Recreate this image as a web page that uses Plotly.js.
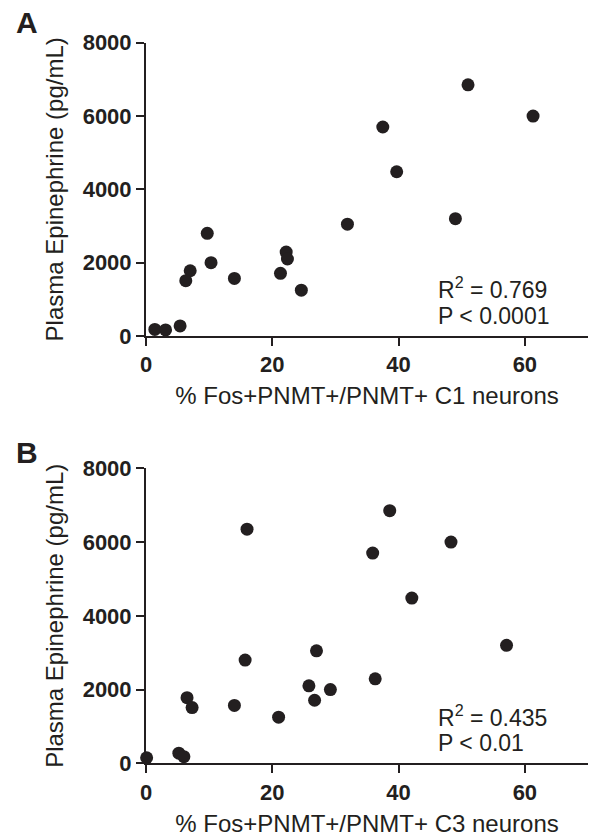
<!DOCTYPE html>
<html>
<head>
<meta charset="utf-8">
<script src="https://cdn.plot.ly/plotly-3.0.1.min.js"></script>
<style>html,body{margin:0;padding:0;background:#fff;}#chart{width:592px;height:837px;}</style>
</head>
<body>
<div id="chart"></div>
<script>
// Panel A: C1 neurons
const c1X = [51.0, 61.3, 37.5, 39.7, 31.9, 49.0, 22.2, 22.4, 21.3, 24.6, 9.7, 10.3, 7.0, 6.3, 14.0, 1.4, 3.1, 5.4];
const c1Y = [6850, 6000, 5700, 4480, 3050, 3200, 2290, 2100, 1710, 1250, 2800, 2000, 1780, 1510, 1570, 180, 165, 275];
// Panel B: C3 neurons
const c3X = [16.0, 38.6, 48.3, 35.9, 42.1, 57.1, 27.0, 36.3, 25.8, 29.2, 26.7, 15.7, 6.5, 7.3, 14.0, 21.0, 0.1, 5.2, 6.0];
const c3Y = [6350, 6850, 6000, 5700, 4480, 3200, 3050, 2290, 2100, 2000, 1710, 2800, 1780, 1510, 1570, 1250, 150, 275, 180];

const xTicks = [0, 20, 40, 60];
const yTicks = [0, 2000, 4000, 6000, 8000];
const xTitleA = "% Fos+PNMT+/PNMT+ C1 neurons";
const xTitleB = "% Fos+PNMT+/PNMT+ C3 neurons";
const yTitle = "Plasma Epinephrine (pg/mL)";
const statsA = ["R<sup>2</sup> = 0.769", "P < 0.0001"];
const statsB = ["R<sup>2</sup> = 0.435", "P < 0.01"];

const INK = "#231f20";
const FONT = "Liberation Sans, Arial, Helvetica, sans-serif";

const marker = {color: INK, size: 13, line: {width: 0}};
const traces = [
  {x: c1X, y: c1Y, type: "scatter", mode: "markers", marker: marker, xaxis: "x", yaxis: "y", cliponaxis: false, showlegend: false},
  {x: c3X, y: c3Y, type: "scatter", mode: "markers", marker: marker, xaxis: "x2", yaxis: "y2", cliponaxis: false, showlegend: false}
];

function xAxis(anchor, title) {
  return {
    domain: [146/592, 588/592], anchor: anchor, range: [0, 70],
    tickvals: xTicks, ticktext: xTicks.map(String),
    showline: true, linewidth: 2, linecolor: INK, mirror: false,
    ticks: "outside", ticklen: 8, tickwidth: 2, tickcolor: INK,
    showgrid: false, zeroline: false,
    tickfont: {family: FONT, size: 22, color: INK, weight: "bold"},
    title: {text: title, font: {family: FONT, size: 24, color: INK}, standoff: 11},
    automargin: false, fixedrange: true
  };
}
function yAxis(anchor, dom) {
  return {
    domain: dom, anchor: anchor, range: [0, 8000],
    tickvals: yTicks, ticktext: yTicks.map(String),
    showline: true, linewidth: 2, linecolor: INK,
    ticks: "outside", ticklen: 8, tickwidth: 2, tickcolor: INK,
    showgrid: false, zeroline: false,
    tickfont: {family: FONT, size: 22, color: INK, weight: "bold"},
    title: {text: yTitle, font: {family: FONT, size: 24, color: INK}, standoff: 12},
    automargin: false, fixedrange: true
  };
}

function statAnn(xr, yr, text, yv) {
  return {xref: xr, yref: yr, x: 46, y: yv, xanchor: "left", yanchor: "middle",
          text: text, showarrow: false, align: "left",
          font: {family: FONT, size: 23, color: INK}};
}

const layout = {
  width: 592, height: 837, autosize: false,
  margin: {l: 0, r: 0, t: 0, b: 0},
  paper_bgcolor: "#ffffff", plot_bgcolor: "#ffffff",
  font: {family: FONT, color: INK},
  xaxis: xAxis("y", xTitleA),
  yaxis: yAxis("x", [1 - 336/837, 1 - 42.7/837]),
  xaxis2: xAxis("y2", xTitleB),
  yaxis2: yAxis("x2", [1 - 763.3/837, 1 - 468.3/837]),
  annotations: [
    statAnn("x", "y", statsA[0], 1317),
    statAnn("x", "y", statsA[1], 554),
    statAnn("x2", "y2", statsB[0], 1275),
    statAnn("x2", "y2", statsB[1], 542),
    {xref: "paper", yref: "paper", x: 14/592, y: 1 - 4/837, xanchor: "left", yanchor: "top",
     text: "<b>A</b>", showarrow: false, font: {family: FONT, size: 30, color: INK}},
    {xref: "paper", yref: "paper", x: 14/592, y: 1 - 434/837, xanchor: "left", yanchor: "top",
     text: "<b>B</b>", showarrow: false, font: {family: FONT, size: 30, color: INK}}
  ]
};

Plotly.newPlot("chart", traces, layout, {displayModeBar: false, staticPlot: true});
</script>
</body>
</html>
